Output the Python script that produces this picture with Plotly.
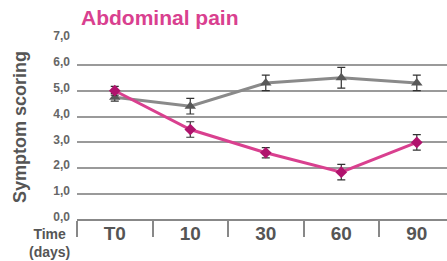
import plotly.graph_objects as go

categories = ["T0", "10", "30", "60", "90"]
gray_values = [4.75, 4.4, 5.3, 5.5, 5.3]
gray_err = [0.15, 0.3, 0.3, 0.4, 0.3]
pink_values = [5.0, 3.5, 2.6, 1.85, 3.0]
pink_err = [0.17, 0.3, 0.2, 0.3, 0.3]
y_ticks = [0, 1, 2, 3, 4, 5, 6, 7]

W, H = 447, 261
ML, MR, MT, MB = 77, 0, 39, 41
pw = W - ML - MR
ph = H - MT - MB


def px_x(x):
    return (x - ML) / pw


def px_y(y):
    return (H - MB - y) / ph


fig = go.Figure()
fig.add_trace(go.Scatter(
    x=categories, y=gray_values, mode="lines+markers",
    line=dict(color="#8a8a8a", width=3),
    marker=dict(symbol="triangle-up", size=10, color="#585858"),
    error_y=dict(type="data", array=gray_err, color="#333333", thickness=1.2, width=4),
    cliponaxis=False,
))
fig.add_trace(go.Scatter(
    x=categories, y=pink_values, mode="lines+markers",
    line=dict(color="#d9408f", width=3),
    marker=dict(symbol="diamond", size=9, color="#b0136d"),
    error_y=dict(type="data", array=pink_err, color="#333333", thickness=1.2, width=4),
    cliponaxis=False,
))

fig.update_layout(
    width=W, height=H,
    margin=dict(l=ML, r=MR, t=MT, b=MB, autoexpand=False),
    paper_bgcolor="white", plot_bgcolor="white",
    showlegend=False,
    font=dict(family="Liberation Sans, Arial, sans-serif", color="#666666"),
    annotations=[
        dict(text="<b>Abdominal pain</b>", x=px_x(79), y=px_y(18), xref="paper", yref="paper",
             showarrow=False, font=dict(size=21, color="#d9408f"),
             xanchor="left", yanchor="middle"),
        dict(text="<b>Symptom scoring</b>", x=px_x(20), y=px_y(127), xref="paper", yref="paper",
             showarrow=False, textangle=-90,
             font=dict(size=18, color="#555555"), xanchor="center", yanchor="middle"),
        dict(text="<b>Time<br>(days)</b>", x=px_x(49), y=px_y(243), xref="paper", yref="paper",
             showarrow=False, align="center",
             font=dict(size=14, color="#555555"), xanchor="center", yanchor="middle"),
    ],
)

fig.update_xaxes(
    type="category", range=[-0.5, 4.4], automargin=False,
    tickson="boundaries", ticks="outside", ticklen=16, tickcolor="#888888", tickwidth=1.5,
    showgrid=False, showline=False, zeroline=False,
    tickvals=categories, ticktext=["<b>%s</b>" % c for c in categories],
    tickfont=dict(size=19, color="#555555", family="Liberation Sans, Arial, sans-serif"),
)
fig.update_yaxes(
    range=[0, 7], automargin=False,
    tickvals=y_ticks, ticktext=["<b>%s</b>" % ("%.1f" % v).replace(".", ",") for v in y_ticks],
    showgrid=True, gridcolor="#9a9a9a", gridwidth=1.5,
    zeroline=True, zerolinecolor="#888888", zerolinewidth=1.5,
    showline=False, ticks="",
    tickfont=dict(size=12, color="#666666", family="Liberation Sans, Arial, sans-serif"),
    ticklabelshift=-3, ticklabelstandoff=6,
)

fig.write_html("out.html", config={"displayModeBar": False},
               post_script="document.body.style.margin='0px';")
